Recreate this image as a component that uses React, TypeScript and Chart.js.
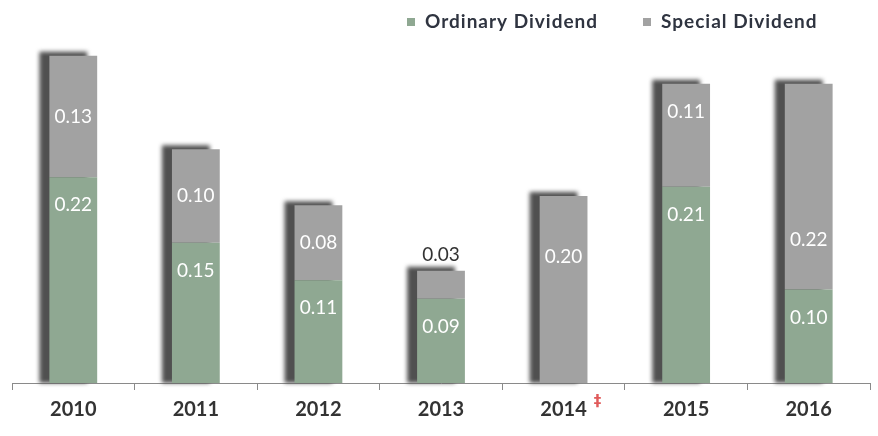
import React, { useEffect, useRef } from "react";
import { Chart, registerables } from "chart.js";

Chart.register(...registerables);

const years = ["2010", "2011", "2012", "2013", "2014", "2015", "2016"];
const ordinary = [0.22, 0.15, 0.11, 0.09, 0, 0.21, 0.1];
const special = [0.13, 0.1, 0.08, 0.03, 0.2, 0.11, 0.22];
const seriesNames = ["Ordinary Dividend", "Special Dividend"];
const footnoteYear = "2014";

const GREEN = "#8fa892";
const GRAY = "#a2a2a2";
const LABEL_FONT = "19px Lato, 'Open Sans', sans-serif";
const specialLabelShift = [0, 0, 0, 0, -33, -23, 53];

const decor = {
  id: "decor",
  beforeDatasetsDraw(chart: any) {
    const { ctx, chartArea } = chart;
    const m1 = chart.getDatasetMeta(1);
    ctx.save();
    ctx.filter = "blur(2px)";
    ctx.fillStyle = "#505050";
    for (let i = 0; i < years.length; i++) {
      const b1 = m1.data[i];
      const w = b1.width;
      const top = b1.y;
      const left = b1.x - w / 2 - 10;
      ctx.fillRect(left, top - 4, w, chartArea.bottom - top + 4);
    }
    ctx.restore();
  },
  afterDatasetsDraw(chart: any) {
    const { ctx } = chart;
    const m0 = chart.getDatasetMeta(0);
    const m1 = chart.getDatasetMeta(1);
    ctx.save();
    ctx.font = LABEL_FONT;
    ctx.textAlign = "center";
    ctx.textBaseline = "middle";
    for (let i = 0; i < years.length; i++) {
      const b0 = m0.data[i];
      const b1 = m1.data[i];
      if (ordinary[i] > 0) {
        ctx.fillStyle = "#ffffff";
        ctx.fillText(ordinary[i].toFixed(2), b0.x, b0.y + 28);
      }
      if (special[i] > 0) {
        const segH = b1.base - b1.y;
        if (segH < 40) {
          ctx.fillStyle = "#333333";
          ctx.fillText(special[i].toFixed(2), b1.x, b1.y - 16);
        } else {
          ctx.fillStyle = "#ffffff";
          ctx.fillText(special[i].toFixed(2), b1.x, (b1.y + b1.base) / 2 + specialLabelShift[i]);
        }
      }
    }
    // footnote mark
    const xs = chart.scales.x;
    const fi = years.indexOf(footnoteYear);
    if (fi >= 0) {
      ctx.fillStyle = "#e05a5a";
      ctx.font = "bold 15px 'DejaVu Sans', sans-serif";
      ctx.fillText("\u2021", xs.getPixelForValue(fi) + 34, 402);
    }
    // legend
    ctx.textAlign = "left";
    ctx.font = "bold 19px Lato, 'Open Sans', sans-serif";
    try { (ctx as any).letterSpacing = "1px"; } catch (e) {}
    const items = [
      { x: 407, color: GREEN, label: seriesNames[0] },
      { x: 643, color: GRAY, label: seriesNames[1] },
    ];
    for (const it of items) {
      ctx.fillStyle = it.color;
      ctx.fillRect(it.x, 18, 8, 8);
      ctx.fillStyle = "#2f3440";
      ctx.fillText(it.label, it.x + 18, 22);
    }
    ctx.restore();
  },
};

export default function App() {
  const ref = useRef<HTMLCanvasElement>(null);
  useEffect(() => {
    if (!ref.current) return;
    const chart = new Chart(ref.current, {
      type: "bar",
      data: {
        labels: years,
        datasets: [
          { label: seriesNames[0], data: ordinary, backgroundColor: GREEN, barPercentage: 0.39, categoryPercentage: 1 },
          { label: seriesNames[1], data: special, backgroundColor: GRAY, barPercentage: 0.39, categoryPercentage: 1 },
        ],
      },
      options: {
        responsive: false,
        animation: false,
        layout: { padding: { left: 12, right: 8, top: 9, bottom: 6 } },
        plugins: { legend: { display: false }, tooltip: { enabled: false } },
        scales: {
          x: {
            stacked: true,
            grid: { offset: true, drawOnChartArea: false, drawTicks: true, tickLength: 7, color: "#8a8a8a" },
            border: { display: true, color: "#8a8a8a" },
            ticks: { color: "#333333", font: { size: 20, weight: "bold", family: "Lato, 'Open Sans', sans-serif" }, padding: 8 },
          },
          y: { stacked: true, display: false, min: 0, max: 0.4 },
        },
      },
      plugins: [decor],
    });
    return () => chart.destroy();
  }, []);
  return (
    <div style={{ position: "fixed", left: 0, top: 0, width: 878, height: 436, background: "#fff" }}>
      <canvas ref={ref} width={878} height={436} />
    </div>
  );
}
